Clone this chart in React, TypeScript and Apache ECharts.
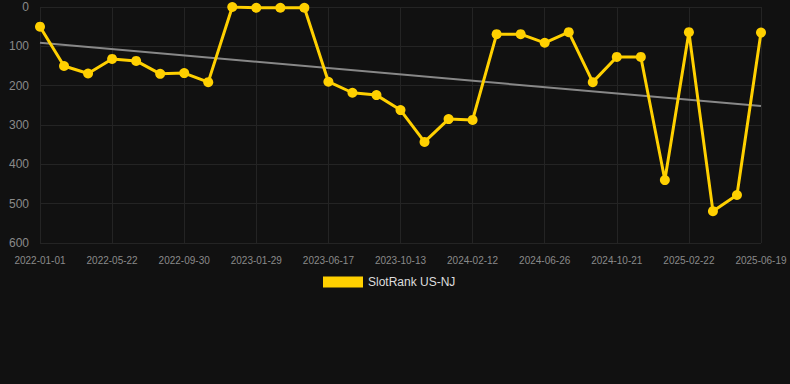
import React, { useEffect, useRef } from "react";
import * as echarts from "echarts";

const dates = [
  "2022-01-01", "2022-02-17", "2022-04-05", "2022-05-22", "2022-07-08", "2022-08-14",
  "2022-09-30", "2022-11-15", "2022-12-22", "2023-01-29", "2023-03-17", "2023-05-02",
  "2023-06-17", "2023-07-30", "2023-09-01", "2023-10-13", "2023-11-24", "2024-01-03",
  "2024-02-12", "2024-03-28", "2024-05-12", "2024-06-26", "2024-08-08", "2024-09-15",
  "2024-10-21", "2024-12-05", "2025-01-12", "2025-02-22", "2025-04-05", "2025-05-12",
  "2025-06-19",
];

const ranks = [
  50, 150, 169, 132, 137, 170, 168, 191, 0, 2, 2, 2,
  190, 218, 224, 262, 343, 285, 287, 69, 69, 91, 64, 191,
  127, 127, 440, 64, 519, 478, 65,
];

const trendStart = 91;
const trendEnd = 252;

const seriesName = "SlotRank US-NJ";

export default function App() {
  const ref = useRef<HTMLDivElement>(null);
  useEffect(() => {
    if (!ref.current) return;
    const chart = echarts.init(ref.current, null, { renderer: "svg" });
    chart.setOption({
      animation: false,
      backgroundColor: "#111111",
      grid: { left: 40, right: 29, top: 7, bottom: 141 },
      legend: {
        top: 276,
        left: 323,
        padding: 0,
        icon: "rect",
        itemWidth: 40,
        itemHeight: 11,
        itemGap: 10,
        textStyle: { color: "#dddddd", fontSize: 12, fontFamily: "Liberation Sans, Arial, sans-serif" },
        data: [seriesName],
      },
      xAxis: {
        type: "category",
        data: dates,
        boundaryGap: false,
        axisLine: { show: false },
        axisTick: { show: false },
        axisLabel: {
          interval: 2,
          color: "#8a8a8a",
          fontSize: 10,
          margin: 12,
          fontFamily: "Liberation Sans, Arial, sans-serif",
        },
        splitLine: { show: true, interval: 2, lineStyle: { color: "#242424", width: 1 } },
      },
      yAxis: {
        type: "value",
        inverse: true,
        min: 0,
        max: 600,
        interval: 100,
        axisLine: { show: false },
        axisTick: { show: false },
        axisLabel: {
          color: "#8a8a8a",
          fontSize: 12,
          margin: 11,
          fontFamily: "Liberation Sans, Arial, sans-serif",
        },
        splitLine: { lineStyle: { color: "#242424", width: 1 } },
      },
      series: [
        {
          name: seriesName,
          type: "line",
          data: ranks,
          color: "#FFD000",
          lineStyle: { color: "#FFD000", width: 3 },
          itemStyle: { color: "#FFD000" },
          symbol: "circle",
          symbolSize: 10,
          z: 3,
          markLine: {
            silent: true,
            symbol: ["none", "none"],
            label: { show: false },
            lineStyle: { color: "#888888", width: 2, type: "solid" },
            data: [
              [
                { coord: [dates[0], trendStart] },
                { coord: [dates[dates.length - 1], trendEnd] },
              ],
            ],
            z: 2,
          },
        },
      ],
    });
    return () => chart.dispose();
  }, []);
  return (
    <div
      ref={ref}
      style={{ position: "fixed", left: 0, top: 0, width: 790, height: 384 }}
    />
  );
}
